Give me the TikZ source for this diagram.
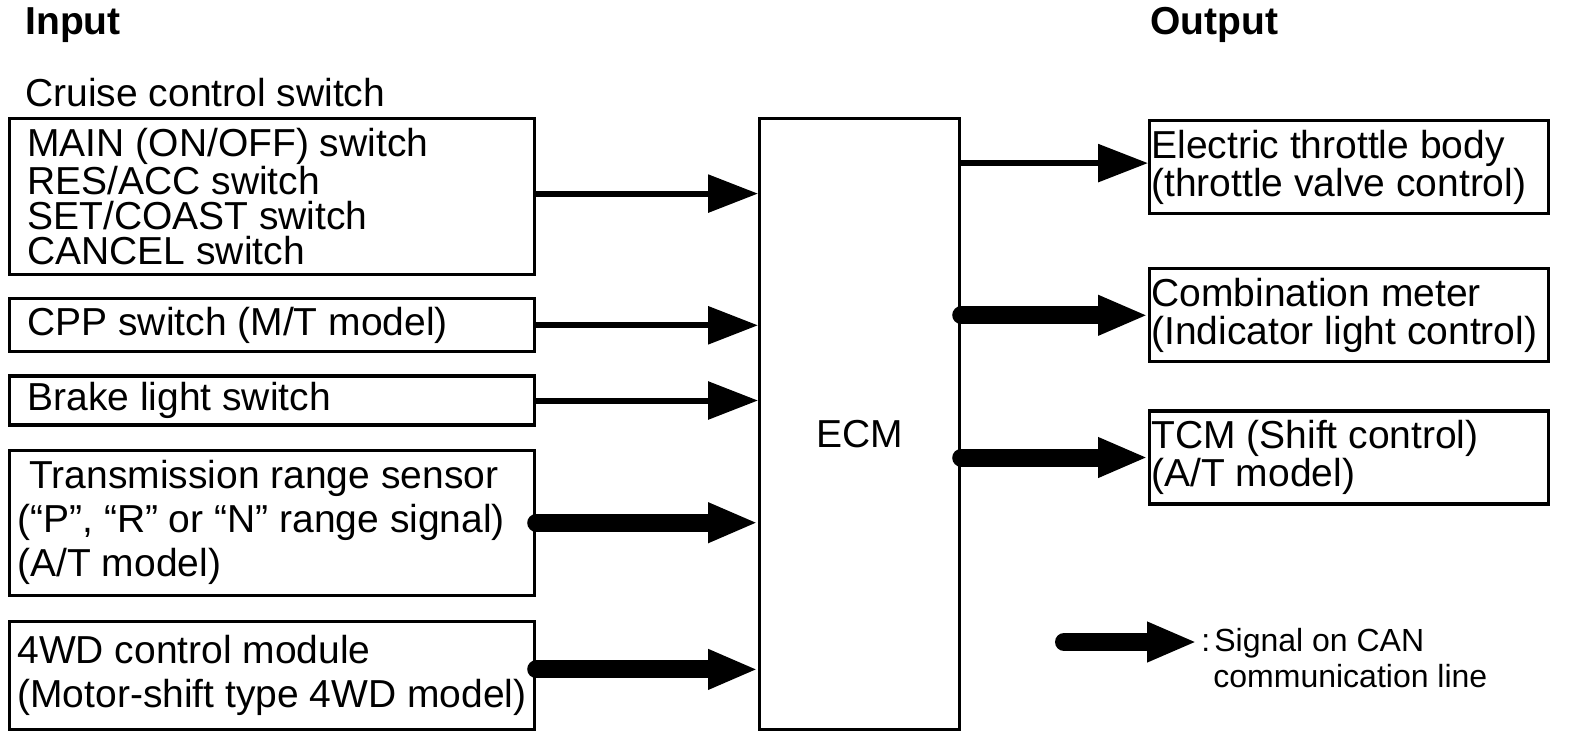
\documentclass[tikz,border=0pt]{standalone}
\usepackage{fontspec}
\setmainfont{Liberation Sans}
\usetikzlibrary{positioning,arrows.meta}

\begin{document}
\begin{tikzpicture}[x=0.5pt, y=-0.5pt,
                    in box/.style={draw, line width=1.6pt, minimum width=262.5pt},
                    out box/.style={draw, line width=1.6pt, minimum width=199.5pt, minimum height=46.5pt},
                    box text/.style={anchor=west, inner sep=0pt, align=left, font=\fontsize{19.5}{22}\selectfont},
                    head/.style={anchor=base west, inner sep=0pt, font=\fontsize{19.5}{22}\selectfont},
                    wire/.style={line width=3pt, line cap=round, -{Triangle[length=25pt, width=18.5pt]}},
                    bus/.style={line width=9pt, line cap=round, -{Triangle[length=25pt, width=18.5pt]}}]

    \useasboundingbox (0,0) rectangle (1584,740);

    \node[head, font=\fontsize{19.5}{22}\selectfont\bfseries] (input)  at (25,34)   {Input};
    \node[head, font=\fontsize{19.5}{22}\selectfont\bfseries] (output) at (1150,34) {Output};
    \node[head] (cruise label) at (25,106) {Cruise control switch};

    % input boxes
    \node[in box, minimum height=78pt, anchor=north west]                    (cruise) at (8,117) {};
    \node[in box, minimum height=26.5pt, below right=10.5pt and 0pt of cruise.south west] (cpp)    {};
    \node[in box, minimum height=24.5pt, below right=10.5pt and 0pt of cpp.south west]    (brake)  {};
    \node[in box, minimum height=72.5pt, below right=11pt and 0pt of brake.south west]    (trans)  {};
    \node[in box, minimum height=54pt,   below right=11.5pt and 0pt of trans.south west]  (fourwd) {};

    \node[box text, font=\fontsize{19.5}{17.5}\selectfont, xshift=9.5pt] (cruise text) at (cruise.west)
        {MAIN (ON/OFF) switch\\RES/ACC switch\\SET/COAST switch\\CANCEL switch};
    \node[box text, xshift=9.5pt] (cpp text)    at (cpp.west)    {CPP switch (M/T model)};
    \node[box text, xshift=9.5pt] (brake text)  at (brake.west)  {Brake light switch};
    \node[box text, xshift=4.5pt] (trans text)  at (trans.west)
        {\hspace*{6pt}Transmission range sensor\\(“P”, “R” or “N” range signal)\\(A/T model)};
    \node[box text, xshift=4.5pt] (fourwd text) at (fourwd.west)
        {4WD control module\\(Motor-shift type 4WD model)};

    % control unit
    \node[draw, line width=1.6pt, minimum width=100pt, minimum height=305.5pt, anchor=north west,
          text height=23pt, text depth=0pt, font=\fontsize{19.5}{22}\selectfont] (ecm) at (758,117) {ECM};

    % output boxes
    \node[out box, anchor=north west]                               (throttle) at (1148,119) {};
    \node[out box, below right=26pt and 0pt of throttle.south west] (meter)    {};
    \node[out box, below right=23pt and 0pt of meter.south west]    (tcm)      {};

    \node[box text, font=\fontsize{19.5}{19}\selectfont, xshift=1.5pt] (throttle text) at (throttle.west)
        {Electric throttle body\\(throttle valve control)};
    \node[box text, font=\fontsize{19.5}{19}\selectfont, xshift=1.5pt] (meter text) at (meter.west)
        {Combination meter\\(Indicator light control)};
    \node[box text, font=\fontsize{19.5}{19}\selectfont, xshift=1.5pt] (tcm text) at (tcm.west)
        {TCM (Shift control)\\(A/T model)};

    \path
    ([yshift=1.5pt]cruise.east) edge[wire] ([yshift=1.5pt]cruise.east -| ecm.west)
    (cpp.east)                  edge[wire] (cpp.east -| ecm.west)
    (brake.east)                edge[wire] (brake.east -| ecm.west)
    (trans.east)                edge[bus]  (trans.east -| ecm.west)
    ([yshift=3pt]fourwd.east)   edge[bus]  ([yshift=3pt]fourwd.east -| ecm.west)
    ([yshift=2pt]ecm.east |- throttle.west) edge[wire] ([yshift=2pt]throttle.west)
    (ecm.east |- meter.west)    edge[bus]  (meter.west)
    (ecm.east |- tcm.west)      edge[bus]  (tcm.west);

    % legend
    \coordinate (can start) at (1064,642);
    \coordinate (can end)   at (1197,642);
    \draw[bus] (can start) -- (can end);
    \node[head, font=\fontsize{16}{18}\selectfont] (can note)  at (1201,651) {:\kern2pt Signal on CAN};
    \node[head, font=\fontsize{16}{18}\selectfont] (can note2) at (1213,687) {communication line};
  \end{tikzpicture}
\end{document}
